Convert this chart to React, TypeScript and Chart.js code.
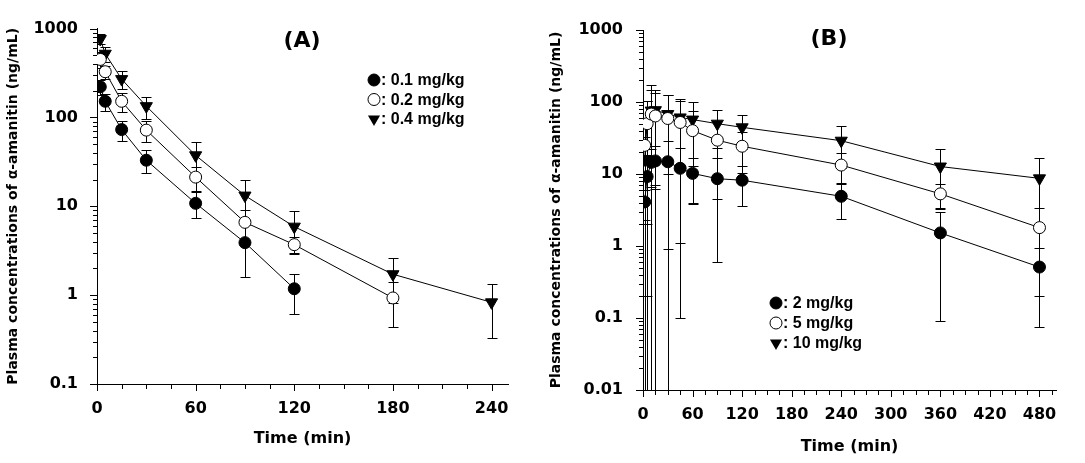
import React, { useEffect, useRef } from "react";
import { Chart, registerables } from "chart.js";
Chart.register(...registerables);

// ---------- Panel A data ----------
const timesA01 = [2, 5, 15, 30, 60, 90, 120];
const meansA01 = [221, 152, 73, 33, 10.8, 3.9, 1.18];
const sdsA01 = [40, 34, 19, 9.5, 3.5, 2.3, 0.57];

const timesA02 = [2, 5, 15, 30, 60, 90, 120, 180];
const meansA02 = [450, 327, 152, 72, 21.3, 6.6, 3.7, 0.93];
const sdsA02 = [90, 55, 36, 19, 6.5, 2.6, 0.8, 0.49];

const timesA04 = [2, 5, 15, 30, 60, 90, 120, 180, 240];
const meansA04 = [763, 521, 270, 134, 37.5, 13.2, 5.9, 1.72, 0.83];
const sdsA04 = [100, 95, 60, 38, 16, 6.4, 2.9, 0.9, 0.5];

// ---------- Panel B data ----------
const timesB = [2, 5, 10, 15, 30, 45, 60, 90, 120, 240, 360, 480];
const meansB2 = [4.1, 9.2, 14.5, 15.2, 14.8, 12, 10.2, 8.6, 8.2, 4.9, 1.52, 0.51];
const sdsB2 = [1.8, 9.0, 8, 9, 13.9, 10.9, 6.4, 8.0, 4.6, 2.5, 1.43, 0.435];
const meansB5 = [25, 50, 68, 64, 59, 52, 40, 29.5, 24.3, 13.3, 5.3, 1.8];
const sdsB5 = [21, 52, 80, 70, 65, 51.9, 36, 25, 14, 6, 2, 1.6];
const meansB10 = [16, 52, 76, 77, 68, 61, 57, 50, 44.5, 29, 12.7, 8.7];
const sdsB10 = [17, 50, 95, 70, 58, 48, 44, 27, 22, 17, 9.3, 8.2];

// ---------- Labels / ticks ----------
const legendA = ["0.1 mg/kg", "0.2 mg/kg", "0.4 mg/kg"];
const legendB = ["2 mg/kg", "5 mg/kg", "10 mg/kg"];
const xTicksA = [0, 60, 120, 180, 240];
const xTicksB = [0, 60, 120, 180, 240, 300, 360, 420, 480];
const yTicksA = [0.1, 1, 10, 100, 1000];
const yTicksB = [0.01, 0.1, 1, 10, 100, 1000];
const yTitle = "Plasma concentrations of \u03b1-amanitin (ng/mL)";
const xTitle = "Time (min)";

const TICK_FONT = { family: "'DejaVu Sans', sans-serif", size: 16, weight: "bold" as const };
const TITLE_FONT_X = { family: "'DejaVu Sans', sans-serif", size: 16, weight: "bold" as const };
const TITLE_FONT_Y = { family: "'DejaVu Sans', sans-serif", size: 14, weight: "bold" as const };

type Style = "filled" | "open" | "tri";

function makeDataset(label: string, times: number[], means: number[], sds: number[], style: Style) {
  return {
    label,
    data: times.map((t, i) => ({ x: t, y: means[i] })),
    sds,
    markerStyle: style,
    showLine: true,
    borderColor: "#000",
    borderWidth: 1,
    pointStyle: style === "tri" ? "triangle" : "circle",
    pointRotation: style === "tri" ? 180 : 0,
    pointRadius: style === "tri" ? 7 : 6,
    pointHoverRadius: style === "tri" ? 7 : 6,
    pointBackgroundColor: style === "open" ? "#fff" : "#000",
    pointBorderColor: "#000",
    pointBorderWidth: 1,
  };
}

const errorBarPlugin = {
  id: "errorBars",
  beforeDatasetsDraw(chart: any) {
    const { ctx, chartArea, scales } = chart;
    const x = scales.x, y = scales.y;
    ctx.save();
    ctx.beginPath();
    ctx.rect(chartArea.left, chartArea.top - 2, chartArea.right - chartArea.left + 2, chartArea.bottom - chartArea.top + 2);
    ctx.clip();
    ctx.strokeStyle = "#000";
    ctx.lineWidth = 1;
    chart.data.datasets.forEach((ds: any) => {
      ds.data.forEach((p: any, i: number) => {
        const sd = ds.sds[i];
        const px = Math.round(x.getPixelForValue(p.x)) + 0.5;
        const hi = Math.round(y.getPixelForValue(p.y + sd)) + 0.5;
        const loVal = p.y - sd;
        const hasLo = loVal > y.min;
        const lo = hasLo ? Math.round(y.getPixelForValue(loVal)) + 0.5 : chartArea.bottom;
        ctx.beginPath();
        ctx.moveTo(px, hi);
        ctx.lineTo(px, lo);
        ctx.moveTo(px - 5, hi);
        ctx.lineTo(px + 5, hi);
        if (hasLo) {
          ctx.moveTo(px - 5, lo);
          ctx.lineTo(px + 5, lo);
        }
        ctx.stroke();
      });
    });
    ctx.restore();
  },
};

function drawMarker(ctx: CanvasRenderingContext2D, style: Style, cx: number, cy: number) {
  ctx.beginPath();
  if (style === "tri") {
    const r = 7;
    ctx.moveTo(cx - r * Math.sin(Math.PI / 3), cy - r / 2);
    ctx.lineTo(cx + r * Math.sin(Math.PI / 3), cy - r / 2);
    ctx.lineTo(cx, cy + r);
    ctx.closePath();
    ctx.fillStyle = "#000";
    ctx.fill();
  } else {
    ctx.arc(cx, cy, 6, 0, Math.PI * 2);
    ctx.fillStyle = style === "open" ? "#fff" : "#000";
    ctx.fill();
    ctx.strokeStyle = "#000";
    ctx.lineWidth = 1;
    ctx.stroke();
  }
}

const decorPlugin = {
  id: "decor",
  afterDraw(chart: any, _args: any, opts: any) {
    const { ctx, chartArea, scales } = chart;
    const x = scales.x, y = scales.y;
    ctx.save();
    // axis tick marks
    ctx.strokeStyle = "#000";
    ctx.lineWidth = 1;
    ctx.beginPath();
    for (let v = 0; v <= x.max + 1e-9; v += opts.xMinorStep) {
      const px = Math.round(x.getPixelForValue(v)) + 0.5;
      const len = v % 60 === 0 ? 7 : 5;
      ctx.moveTo(px, chartArea.bottom);
      ctx.lineTo(px, chartArea.bottom + len);
    }
    for (let e = Math.round(Math.log10(y.min)); e < Math.round(Math.log10(y.max)) + 1; e++) {
      for (let k = 1; k <= 9; k++) {
        const v = k * Math.pow(10, e);
        if (v > y.max * 1.0001) break;
        const py = Math.round(y.getPixelForValue(v)) + 0.5;
        const len = k === 1 ? 7 : 4;
        ctx.moveTo(chartArea.left, py);
        ctx.lineTo(chartArea.left - len, py);
      }
    }
    ctx.stroke();
    // panel title
    ctx.fillStyle = "#000";
    ctx.font = "bold 22px 'DejaVu Sans', sans-serif";
    ctx.textAlign = "center";
    ctx.textBaseline = "middle";
    ctx.fillText(opts.title, opts.titleX, opts.titleY);
    // legend
    const styles: Style[] = ["filled", "open", "tri"];
    ctx.font = "bold 16px 'Liberation Sans', Arial, sans-serif";
    ctx.textAlign = "left";
    opts.legend.forEach((txt: string, i: number) => {
      const ly = opts.legendY + i * opts.legendGap;
      drawMarker(ctx, styles[i], opts.legendX, ly);
      ctx.fillStyle = "#000";
      ctx.fillText(": " + txt, opts.legendX + 7, ly + 1);
    });
    ctx.restore();
  },
};

function buildConfig(p: any) {
  return {
    type: "scatter" as const,
    data: { datasets: p.datasets },
    plugins: [errorBarPlugin, decorPlugin],
    options: {
      animation: false as const,
      responsive: false,
      devicePixelRatio: 1,
      events: [] as any[],
      layout: { padding: { top: p.top, right: p.right, left: 0, bottom: 0 } },
      plugins: {
        legend: { display: false },
        tooltip: { enabled: false },
        decor: p.decor,
      },
      scales: {
        x: {
          type: "linear" as const,
          min: 0,
          max: p.xMax,
          afterBuildTicks: (s: any) => {
            s.ticks = p.xTicks.map((v: number) => ({ value: v }));
          },
          afterFit: (s: any) => {
            s.height = p.xHeight;
          },
          ticks: {
            autoSkip: false,
            maxRotation: 0,
            color: "#000",
            font: TICK_FONT,
            padding: p.xTickPad,
            callback: (v: any) => String(v),
          },
          grid: { display: false, drawTicks: false },
          border: { display: true, color: "#000", width: 1 },
          title: {
            display: true,
            text: xTitle,
            color: "#000",
            font: TITLE_FONT_X,
            padding: { top: 0, bottom: p.xTitlePad },
          },
        },
        y: {
          type: "logarithmic" as const,
          min: p.yTicks[0],
          max: p.yTicks[p.yTicks.length - 1],
          afterBuildTicks: (s: any) => {
            s.ticks = p.yTicks.map((v: number) => ({ value: v }));
          },
          afterFit: (s: any) => {
            s.width = p.yWidth;
          },
          ticks: {
            autoSkip: false,
            color: "#000",
            font: TICK_FONT,
            padding: p.yTickPad,
            callback: (v: any) => String(v),
          },
          grid: { display: false, drawTicks: false },
          border: { display: true, color: "#000", width: 1 },
          title: {
            display: true,
            text: yTitle,
            color: "#000",
            font: TITLE_FONT_Y,
            padding: { top: p.yTitlePad, bottom: 0 },
          },
        },
      },
    },
  };
}

function Panel(props: { cfg: any; left: number; width: number }) {
  const ref = useRef<HTMLCanvasElement | null>(null);
  useEffect(() => {
    if (!ref.current) return;
    const chart = new Chart(ref.current, buildConfig(props.cfg) as any);
    return () => chart.destroy();
  }, []);
  return (
    <canvas
      ref={ref}
      width={props.width}
      height={463}
      style={{ position: "absolute", left: props.left, top: 0, width: props.width, height: 463 }}
    />
  );
}

export default function App() {
  const cfgA = {
    datasets: [
      makeDataset(legendA[0], timesA01, meansA01, sdsA01, "filled"),
      makeDataset(legendA[1], timesA02, meansA02, sdsA02, "open"),
      makeDataset(legendA[2], timesA04, meansA04, sdsA04, "tri"),
    ],
    xMax: 250,
    xTicks: xTicksA,
    yTicks: yTicksA,
    top: 23,
    right: 32,
    xHeight: 79,
    yWidth: 97,
    xTickPad: 15,
    yTickPad: 19,
    xTitlePad: 15,
    yTitlePad: 5,
    decor: {
      xMinorStep: 15,
      title: "(A)",
      titleX: 302,
      titleY: 41,
      legend: legendA,
      legendX: 374,
      legendY: 80,
      legendGap: 19.5,
    },
  };
  const cfgB = {
    datasets: [
      makeDataset(legendB[0], timesB, meansB2, sdsB2, "filled"),
      makeDataset(legendB[1], timesB, meansB5, sdsB5, "open"),
      makeDataset(legendB[2], timesB, meansB10, sdsB10, "tri"),
    ],
    xMax: 500,
    xTicks: xTicksB,
    yTicks: yTicksB,
    top: 30,
    right: 29,
    xHeight: 73,
    yWidth: 103,
    xTickPad: 15,
    yTickPad: 20,
    xTitlePad: 7,
    yTitlePad: 8,
    decor: {
      xMinorStep: 15,
      title: "(B)",
      titleX: 289,
      titleY: 39,
      legend: legendB,
      legendX: 236,
      legendY: 303,
      legendGap: 20,
    },
  };
  return (
    <div style={{ position: "absolute", left: 0, top: 0, width: 1085, height: 463, background: "#fff" }}>
      <Panel cfg={cfgA} left={0} width={540} />
      <Panel cfg={cfgB} left={540} width={545} />
    </div>
  );
}
